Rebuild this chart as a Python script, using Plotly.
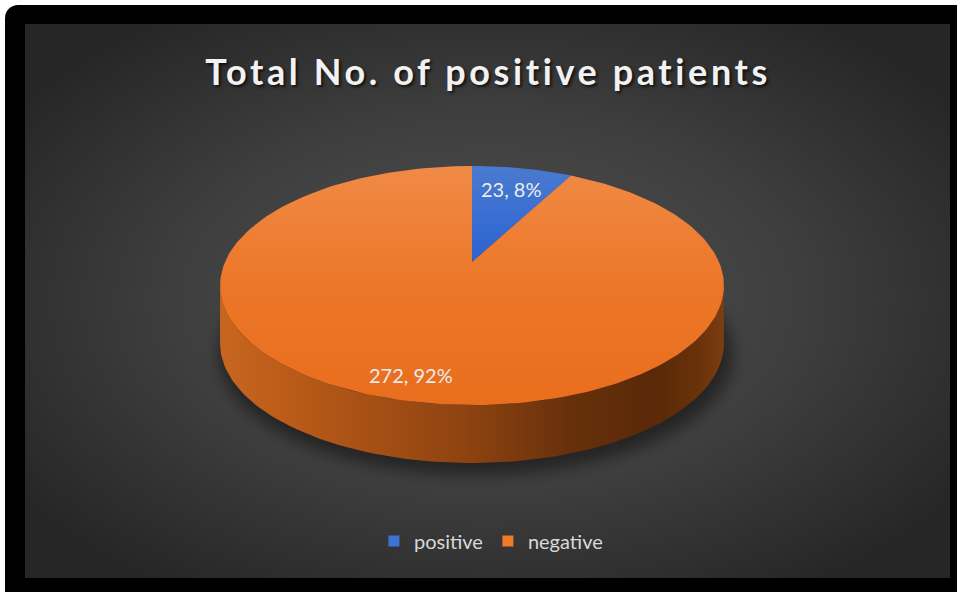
import math
import base64
import plotly.graph_objects as go

# ---- data -------------------------------------------------------------
categories = ["positive", "negative"]
patients = [23, 272]
chart_title = "Total No. of positive patients"

# ---- styling ----------------------------------------------------------
W, H = 957, 592
FONT = "Lato"
# vertical gradients run from the bottom of the shape (0) to its top (1)
TOP_GRADIENT = {
    "positive": [[0, "#2a62d2"], [1, "#4a7bd0"]],
    "negative": [[0, "#e96e1e"], [0.5, "#ec7628"], [1, "#f08a46"]],
}
SIDE_GRADIENT = {
    "positive": [[0, "#2f5aa8"], [1, "#1c3c78"]],
    "negative": [[0, "#c8661f"], [0.15, "#b95a18"], [0.5, "#8c4210"],
                 [0.7, "#67300b"], [0.86, "#5a2909"], [0.95, "#693209"],
                 [1, "#7d3d12"]],
}
KEY_COLOURS = {"positive": "#3f72d6", "negative": "#ee7a2a"}
LABEL_RADIUS = [0.75, 0.85]
TITLE_TRACKING = "3.6px"

# perspective projection of the pie disc onto the page (pixels)
CX, CY = 472.0, 262.0
A, B, K = 247.0, 114.9, 0.1967
DEPTH = 58.0


def project(u, v, drop=0.0):
    w = 1.0 - K * v
    return CX + A * u / w, CY + B * v / w + drop


def arc(t0, t1, drop=0.0, n=240):
    xs, ys = [], []
    steps = max(2, int(n * (t1 - t0) / (2 * math.pi)) + 2)
    for i in range(steps):
        t = t0 + (t1 - t0) * i / (steps - 1)
        x, y = project(math.cos(t), math.sin(t), drop)
        xs.append(x)
        ys.append(y)
    return xs, ys


total = sum(patients)
fractions = [p / total for p in patients]
spans = []
start = -math.pi / 2  # first slice starts at 12 o'clock, running clockwise
for f in fractions:
    end = start + 2 * math.pi * f
    spans.append((start, end))
    start = end

# visible (front) part of the rim
front_lo = math.asin(K)
front_hi = math.pi - front_lo

fig = go.Figure()

# rim of the cylinder
for cat, (t0, t1) in zip(categories, spans):
    lo, hi = max(t0, front_lo), min(t1, front_hi)
    if hi <= lo:
        continue
    tx, ty = arc(lo, hi)
    bx, by = arc(lo, hi, DEPTH)
    fig.add_trace(go.Scatter(
        x=tx + bx[::-1], y=ty + by[::-1], mode="lines", fill="toself",
        line=dict(width=0), fillgradient=dict(type="horizontal",
                                              colorscale=SIDE_GRADIENT[cat]),
        hoverinfo="skip", showlegend=False))

# top face slices
for cat, val, (t0, t1) in zip(categories, patients, spans):
    ax, ay = arc(t0, t1)
    fig.add_trace(go.Scatter(
        x=[CX] + ax + [CX], y=[CY] + ay + [CY], mode="lines", fill="toself",
        line=dict(width=0), fillgradient=dict(type="vertical",
                                              colorscale=TOP_GRADIENT[cat]),
        name=cat, text=f"{cat}: {val}", hoverinfo="text", showlegend=False))

# data labels: "value, percent"
for cat, val, f, (t0, t1), r in zip(categories, patients, fractions, spans,
                                    LABEL_RADIUS):
    tm = (t0 + t1) / 2
    lx, ly = project(r * math.cos(tm), r * math.sin(tm))
    fig.add_annotation(x=lx, y=ly, xref="x", yref="y", showarrow=False,
                       text=f"{val}, {round(f * 100)}%",
                       font=dict(family=FONT, size=20, color="#ececec"))

# legend keys
for cat in categories:
    fig.add_trace(go.Scatter(
        x=[None], y=[None], mode="markers", name=cat,
        marker=dict(symbol="square", size=11, color=KEY_COLOURS[cat]),
        hoverinfo="skip"))

# background: frame, dark radial panel and soft shadow under the pie
svg = f"""<svg xmlns="http://www.w3.org/2000/svg" width="{W}" height="{H}" viewBox="0 0 {W} {H}">
<defs>
<radialGradient id="panel" cx="0.5" cy="0.5" r="0.62">
<stop offset="0" stop-color="#525252"/>
<stop offset="0.55" stop-color="#3e3e3e"/>
<stop offset="1" stop-color="#262626"/>
</radialGradient>
<filter id="soft" x="-20%" y="-30%" width="140%" height="160%">
<feGaussianBlur stdDeviation="8"/>
</filter>
</defs>
<rect width="{W}" height="{H}" fill="#ffffff"/>
<rect x="5" y="5" width="{W + 30}" height="{H + 30}" rx="13" fill="#000000"/>
<rect x="25" y="24" width="925" height="554" fill="url(#panel)"/>
<ellipse cx="{CX + 4}" cy="{CY + 34 + DEPTH}" rx="{A + 10}" ry="{B + 6}" fill="#000000" fill-opacity="0.45" filter="url(#soft)"/>
</svg>"""
bg_src = "data:image/svg+xml;base64," + base64.b64encode(svg.encode()).decode()

fig.update_layout(
    width=W, height=H,
    margin=dict(l=0, r=0, t=0, b=0),
    paper_bgcolor="#ffffff",
    plot_bgcolor="rgba(0,0,0,0)",
    images=[dict(source=bg_src, xref="paper", yref="paper", x=0, y=1,
                 sizex=1, sizey=1, xanchor="left", yanchor="top",
                 sizing="stretch", layer="below")],
    xaxis=dict(range=[0, W], visible=False, fixedrange=True),
    yaxis=dict(range=[H, 0], visible=False, fixedrange=True),
    title=dict(text=chart_title, x=0.51, xanchor="center", y=1 - 72 / H,
               yanchor="middle",
               font=dict(family=FONT, size=36, color="#f2f2f2", weight="bold",
                         shadow="2px 2px 3px rgba(0,0,0,0.7)")),
    legend=dict(orientation="h", x=0.513, xanchor="center",
                y=1 - 541 / H, yanchor="middle",
                font=dict(family=FONT, size=20, color="#d9d9d9"),
                bgcolor="rgba(0,0,0,0)", itemclick=False,
                itemdoubleclick=False),
    showlegend=True,
)

# widen the title's letter spacing once the plot is drawn
tracking_js = (
    "document.querySelectorAll('.gtitle').forEach(function (t) {"
    f"t.style.letterSpacing = '{TITLE_TRACKING}';"
    "});"
)
fig.write_html("out.html", post_script=tracking_js)
